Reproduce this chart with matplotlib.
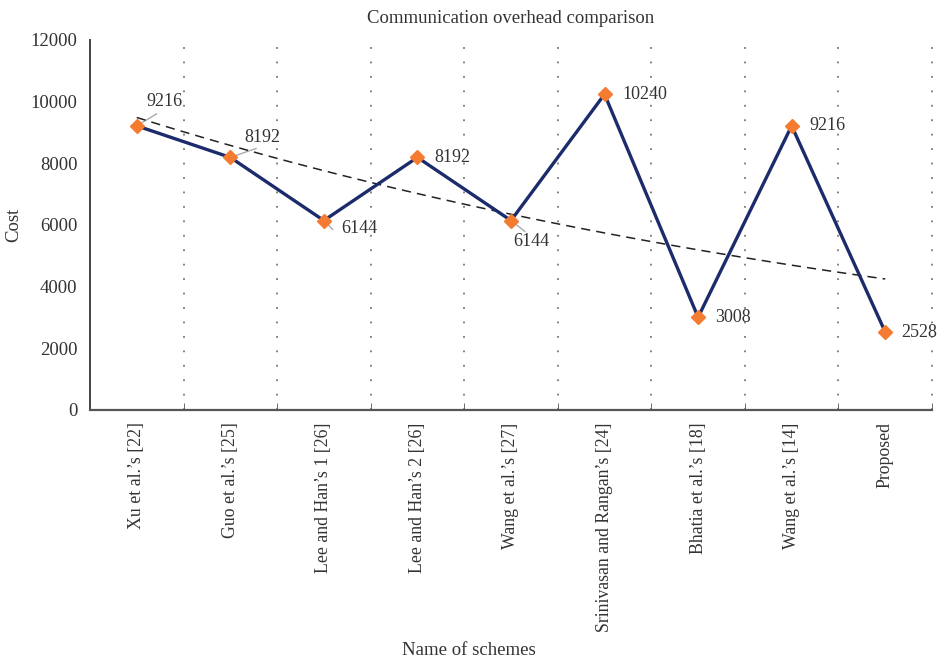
import matplotlib

matplotlib.use("Agg")
import matplotlib.pyplot as plt
import numpy as np

plt.rcParams["font.family"] = ["Liberation Serif", "DejaVu Serif"]

SCHEMES = [
    "Xu et al.’s [22]",
    "Guo et al.’s [25]",
    "Lee and Han’s 1 [26]",
    "Lee and Han’s 2 [26]",
    "Wang et al.’s [27]",
    "Srinivasan and Rangan’s [24]",
    "Bhatia et al.’s [18]",
    "Wang et al.’s [14]",
    "Proposed",
]
COST = [9216, 8192, 6144, 8192, 6144, 10240, 3008, 9216, 2528]

# label placement (pixel offsets from the marker) and optional leader-line end
LABEL_OFF = [(10, 24), (14, 20), (17, -8), (17, 0), (2, -21), (18, 0), (17, 0), (18, 0), (16, 0)]
LEADER_END = [(20, 12), (26, 9), (9, -9), None, (14, -11), None, None, None, None]

LINE_COLOR = "#1c2b6b"
MARKER_COLOR = "#f47b2f"
TEXT_COLOR = "#333333"

fig = plt.figure(figsize=(9.38, 6.62), dpi=100)
ax = fig.add_axes([0.0959, 0.3807, 0.8977, 0.5589])

x = np.arange(len(COST))
ax.plot(x, COST, color=LINE_COLOR, lw=2.4, marker="D", ms=7,
        mfc=MARKER_COLOR, mec=MARKER_COLOR, zorder=3)

# exponential trendline (as a spreadsheet would add it)
b, a = np.polyfit(x, np.log(COST), 1)
xt = np.linspace(0, len(COST) - 1, 100)
ax.plot(xt, np.exp(a + b * xt), color="#222222", lw=1.1, ls=(0, (6, 4)), zorder=2)

for i, v in enumerate(COST):
    lead = LEADER_END[i]
    if lead is not None:
        ax.annotate("", xy=(i, v), xytext=lead, textcoords="offset pixels",
                    arrowprops=dict(arrowstyle="-", color="#aaaaaa", lw=1.0,
                                    shrinkA=0, shrinkB=0), zorder=1)
    ax.annotate(f"{v}", xy=(i, v), xytext=LABEL_OFF[i], textcoords="offset pixels",
                ha="left", va="center", fontsize=13, color=TEXT_COLOR)

ax.set_xlim(-0.5, len(COST) - 0.5)
ax.set_ylim(0, 12000)
ax.set_yticks(range(0, 12001, 2000))
ax.tick_params(axis="y", length=0, labelsize=13.5, labelcolor=TEXT_COLOR, pad=9)

ax.set_xticks(x)
ax.set_xticklabels(SCHEMES, rotation=90, fontsize=12.8, color=TEXT_COLOR)
ax.tick_params(axis="x", which="major", length=0, pad=9)
ax.set_xticks(np.arange(0.5, len(COST)), minor=True)
ax.tick_params(axis="x", which="minor", direction="in", length=5, color="#555555")
ax.grid(axis="x", which="minor", color="#777777", ls=(0, (1, 7)), lw=1.3, clip_on=False)
ax.grid(axis="x", which="major", visible=False)

for s in ("top", "right"):
    ax.spines[s].set_visible(False)
ax.spines["left"].set_color("#444444")
ax.spines["left"].set_linewidth(1.4)
ax.spines["bottom"].set_color("#555555")
ax.spines["bottom"].set_linewidth(1.6)

ax.set_title("Communication overhead comparison", fontsize=13.5, color=TEXT_COLOR, pad=12)
ax.set_ylabel("Cost", fontsize=13.5, color=TEXT_COLOR, labelpad=6)
fig.text(0.5, 0.005, "Name of schemes", ha="center", va="bottom", fontsize=13.5,
         color=TEXT_COLOR)

fig.savefig("out.png", dpi=100)
